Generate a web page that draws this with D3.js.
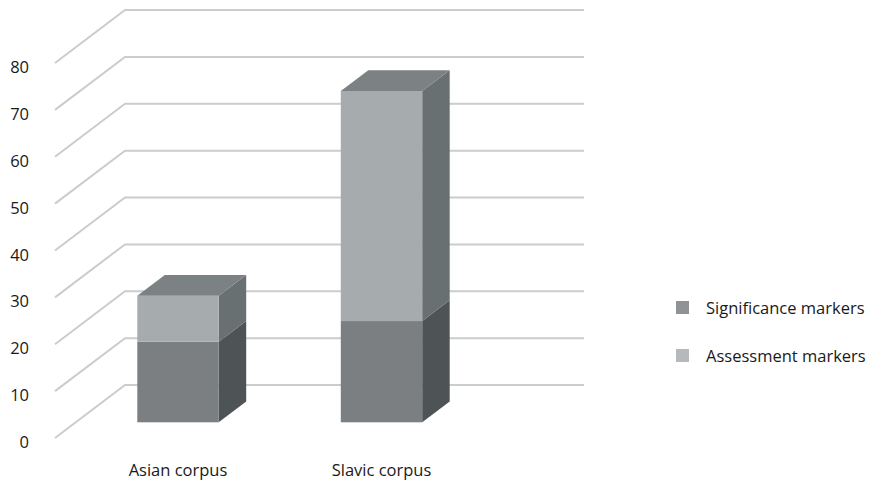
<!DOCTYPE html>
<html><head><meta charset="utf-8">
<script src="https://cdn.jsdelivr.net/npm/d3@7"></script>
<style>body{margin:0;background:#fff}svg{display:block}text{font-family:"Open Sans",sans-serif;fill:#1a1a1a}</style>
</head><body><svg id="c" width="869" height="480"></svg>
<script>
const categories = ["Asian corpus", "Slavic corpus"];
const seriesNames = ["Significance markers", "Assessment markers"];
const significance = [17.2, 21.6];
const assessment = [9.8, 49.1];
const yTicks = [0, 10, 20, 30, 40, 50, 60, 70, 80];

const svg = d3.select("#c");
const frontFace = ["#7b7f81", "#a6abad"];
const sideFace = ["#4e5456", "#687071"];
const topFace = "#7c8183";
const legendColors = ["#8f9395", "#b5b9bb"];

// Gridline scales (floor front edge and back wall)
const yFront = d3.scaleLinear().domain([0, 80]).range([438, 63]);
const yBack = d3.scaleLinear().domain([0, 80]).range([385, 10]);
const xFront = 55, xBack = 125, xRight = 584;

const grid = svg.append("g");
yTicks.forEach(v => {
  grid.append("path")
    .attr("d", d3.line()([[xFront, yFront(v)], [xBack, yBack(v)], [xRight, yBack(v)]]))
    .attr("fill", "none").attr("stroke", "#c9cdcd").attr("stroke-width", 2);
  grid.append("text").attr("x", 29).attr("y", yFront(v) + 10)
    .attr("text-anchor", "end").attr("font-size", 16.5).text(v);
});

// Bars
const yBar = d3.scaleLinear().domain([0, 80]).range([422.3, 47.3]);
const x = d3.scaleBand().domain(categories).range([76.25, 483.25]).paddingInner(0.6).paddingOuter(0.3);
const dx = 27.5, dy = -20.7;

const stackData = categories.map((c, i) => ({cat: c, significance: significance[i], assessment: assessment[i]}));
const stacked = d3.stack().keys(["significance", "assessment"])(stackData);

const bars = svg.append("g");
stacked.forEach((layer, li) => {
  layer.forEach((d, i) => {
    const x0 = x(categories[i]), x1 = x0 + x.bandwidth();
    const yb = yBar(d[0]), yt = yBar(d[1]);
    bars.append("path").attr("d", d3.line()([[x1, yb], [x1 + dx, yb + dy], [x1 + dx, yt + dy], [x1, yt]]) + "Z")
      .attr("fill", sideFace[li]);
    bars.append("rect").attr("x", x0).attr("y", yt).attr("width", x1 - x0).attr("height", yb - yt)
      .attr("fill", frontFace[li]);
    if (li === stacked.length - 1) {
      bars.append("path").attr("d", d3.line()([[x0, yt], [x0 + dx, yt + dy], [x1 + dx, yt + dy], [x1, yt]]) + "Z")
        .attr("fill", topFace);
    }
  });
});

// Category labels
categories.forEach(c => {
  svg.append("text").attr("x", x(c) + x.bandwidth() / 2).attr("y", 476)
    .attr("text-anchor", "middle").attr("font-size", 16.5).text(c);
});

// Legend
seriesNames.forEach((s, i) => {
  const ly = 301 + i * 48;
  svg.append("rect").attr("x", 676).attr("y", ly).attr("width", 13).attr("height", 13).attr("fill", legendColors[i]);
  svg.append("text").attr("x", 706).attr("y", ly + 13).attr("font-size", 16.5).text(s);
});
</script></body></html>
